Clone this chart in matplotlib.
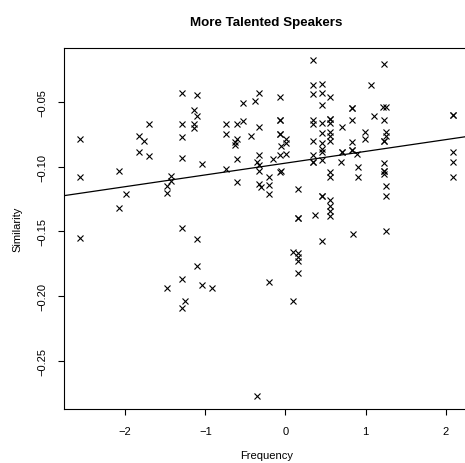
import numpy as np
import matplotlib
matplotlib.use("Agg")
import matplotlib.pyplot as plt

plt.rcParams["font.family"] = ["Liberation Sans", "DejaVu Sans"]

# Frequency (x) and Similarity (y)
frequency = [
    -2.57, -2.57, -2.57, -2.08, -2.08, -1.99, -1.83, -1.76, -1.83, -1.70,
    -1.70, -1.48, -1.48, -1.43, -1.43, -1.29, -1.29, -1.29, -1.29, -1.29,
    -1.10, -1.14, -1.10, -1.14, -1.14, -1.04, -0.74, -0.74, -0.74, -0.61,
    -0.53, -0.61, -0.63, -0.63, -0.61, -0.61, -0.53, -0.43, -1.10, -1.10,
    -1.29, -1.48, -1.04, -0.92, -1.25, -1.29, -0.36, -0.33, -0.38, -0.07,
    -0.33, -0.07, -0.07, -0.07, -0.07, 0.01, -0.05, 0.01, -0.33, -0.36,
    -0.33, -0.33, -0.15, -0.07, 0.01, -0.05, -0.07, -0.20, -0.33, -0.30,
    -0.20, -0.20, 0.16, 0.16, 0.16, 0.10, 0.16, 0.16, 0.16, 0.16,
    -0.20, 0.10, 0.34, 0.34, 0.46, 0.34, 0.46, 0.56, 0.46, 0.83,
    0.83, 0.34, 0.34, 0.46, 0.56, 0.56, 0.56, 0.71, 0.83, 0.46,
    0.56, 0.56, 0.56, 0.34, 0.46, 0.46, 0.46, 0.71, 0.71, 0.83,
    0.83, 0.83, 0.89, 0.34, 0.34, 0.34, 0.46, 0.69, 0.90, 0.90,
    0.56, 0.56, 0.46, 0.46, 0.56, 0.56, 0.56, 0.56, 0.37, 0.84,
    0.46, 1.23, 1.07, 1.22, 1.26, 1.10, 1.23, 0.99, 0.99, 1.26,
    1.26, 1.23, 1.23, 1.23, 1.23, 1.23, 1.23, 1.26, 1.26, 1.26,
    2.09, 2.09, 2.09, 2.09, 2.09,
]
similarity = [
    -0.079, -0.108, -0.155, -0.103, -0.132, -0.121, -0.076, -0.080, -0.089, -0.067,
    -0.092, -0.115, -0.120, -0.107, -0.111, -0.043, -0.067, -0.077, -0.093, -0.147,
    -0.045, -0.056, -0.061, -0.067, -0.070, -0.098, -0.067, -0.075, -0.102, -0.067,
    -0.065, -0.079, -0.081, -0.083, -0.094, -0.112, -0.051, -0.076, -0.156, -0.177,
    -0.187, -0.194, -0.191, -0.194, -0.204, -0.209, -0.277, -0.043, -0.049, -0.046,
    -0.069, -0.064, -0.064, -0.075, -0.075, -0.079, -0.084, -0.082, -0.091, -0.096,
    -0.099, -0.103, -0.094, -0.091, -0.090, -0.103, -0.104, -0.108, -0.113, -0.116,
    -0.114, -0.121, -0.117, -0.140, -0.140, -0.166, -0.167, -0.170, -0.173, -0.182,
    -0.189, -0.204, -0.018, -0.037, -0.036, -0.044, -0.043, -0.046, -0.052, -0.055,
    -0.055, -0.064, -0.067, -0.066, -0.063, -0.063, -0.066, -0.069, -0.064, -0.074,
    -0.073, -0.076, -0.080, -0.080, -0.082, -0.086, -0.089, -0.089, -0.089, -0.081,
    -0.087, -0.087, -0.090, -0.091, -0.096, -0.096, -0.095, -0.096, -0.100, -0.108,
    -0.104, -0.108, -0.123, -0.123, -0.126, -0.130, -0.134, -0.138, -0.137, -0.152,
    -0.157, -0.021, -0.037, -0.054, -0.054, -0.061, -0.064, -0.073, -0.079, -0.073,
    -0.076, -0.080, -0.080, -0.097, -0.103, -0.103, -0.106, -0.115, -0.123, -0.150,
    -0.060, -0.060, -0.089, -0.096, -0.108,
]

x_ticks = [-2, -1, 0, 1, 2]
y_ticks = [-0.25, -0.20, -0.15, -0.10, -0.05]

x = np.array(frequency)
y = np.array(similarity)
slope, intercept = np.polyfit(x, y, 1)

fig = plt.figure(figsize=(4.65, 4.64), dpi=100)
ax = fig.add_axes([0.1376, 0.1164, 0.870, 0.7787])

ax.plot(x, y, linestyle="none", marker="x", color="black",
        markersize=4.5, markeredgewidth=0.8)
ax.axline((0, intercept), slope=slope, color="black", linewidth=0.9)

ax.set_xlim(-2.765, 2.285)
ax.set_ylim(-0.2871, -0.0081)
ax.set_xticks(x_ticks)
ax.set_xticklabels([str(t).replace("-", "\u2212") for t in x_ticks])
ax.set_yticks(y_ticks)
ax.set_yticklabels([f"{t:.2f}".replace("-", "\u2212") for t in y_ticks],
                   rotation=90, va="center")

ax.tick_params(direction="out", length=4.5, width=0.8, labelsize=8, pad=7.5)
for s in ax.spines.values():
    s.set_linewidth(0.8)

ax.set_xlabel("Frequency", fontsize=8, labelpad=10)
ax.set_ylabel("Similarity", fontsize=8, labelpad=11)
ax.set_title("More Talented Speakers", fontsize=9.6, fontweight="bold", pad=16)

fig.savefig("out.png", dpi=100)
print(slope, intercept)
